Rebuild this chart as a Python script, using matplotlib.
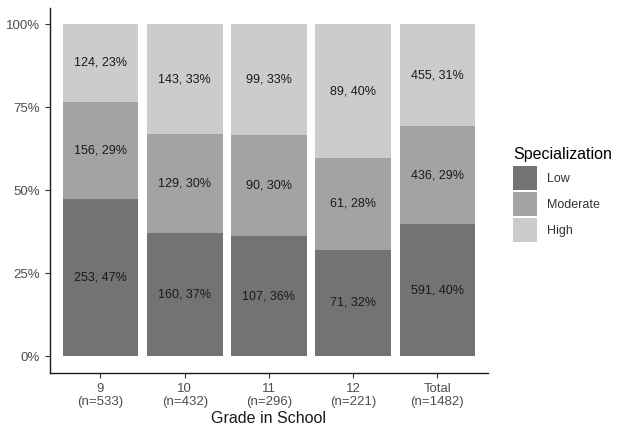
import numpy as np
import matplotlib
matplotlib.use('Agg')
import matplotlib.pyplot as plt
from matplotlib.patches import Patch

# counts per grade and specialization level
grades = ['9', '10', '11', '12', 'Total']
low = [253, 160, 107, 71, 591]
moderate = [156, 129, 90, 61, 436]
high = [124, 143, 99, 89, 455]
levels = ['Low', 'Moderate', 'High']
colors = ['#737373', '#a3a3a3', '#cccccc']

plt.rcParams['font.family'] = ['Liberation Sans', 'DejaVu Sans']

counts = np.array([low, moderate, high], dtype=float)
totals = counts.sum(axis=0)
shares = counts / totals

fig = plt.figure(figsize=(6.24, 4.34), dpi=100)
ax = fig.add_axes([0.080, 0.141, 0.702, 0.841])

x = np.arange(1, len(grades) + 1)
bottom = np.zeros(len(grades))
for i, lvl in enumerate(levels):
    ax.bar(x, shares[i], width=0.9, bottom=bottom, color=colors[i], linewidth=0)
    for j in range(len(grades)):
        pct = int(np.floor(shares[i, j] * 100 + 0.5))
        ax.text(x[j], bottom[j] + shares[i, j] / 2, f'{int(counts[i, j])}, {pct}%',
                ha='center', va='center', fontsize=9, color='#1a1a1a')
    bottom += shares[i]

ax.set_xlim(0.4, 5.6)
ax.set_ylim(-0.05, 1.05)
ax.set_yticks([0, 0.25, 0.5, 0.75, 1.0])
ax.set_yticklabels(['0%', '25%', '50%', '75%', '100%'])
ax.set_xticks(x)
ax.set_xticklabels([f'{g}\n(n={int(t)})' for g, t in zip(grades, totals)], linespacing=1.15)
ax.tick_params(colors='#333333', labelcolor='#4d4d4d', labelsize=9.5, length=3.5, width=0.8)
ax.spines['top'].set_visible(False)
ax.spines['right'].set_visible(False)
for s in ['left', 'bottom']:
    ax.spines[s].set_color('#1a1a1a')
    ax.spines[s].set_linewidth(1.0)
ax.set_xlabel('Grade in School', fontsize=11.5, color='#1a1a1a', labelpad=2)

handles = [Patch(facecolor=c, edgecolor='none') for c in colors]
leg = fig.legend(handles, levels, title='Specialization', loc='upper left',
                 bbox_to_anchor=(0.812, 0.676), frameon=False, fontsize=9,
                 title_fontsize=11.5, handlelength=1.9, handleheight=2.58,
                 handletextpad=0.8, labelspacing=0.15, borderpad=0)
leg._legend_box.align = 'left'
leg._legend_box.sep = 3
for t in leg.get_texts():
    t.set_color('#333333')

fig.savefig('out.png', dpi=100)
